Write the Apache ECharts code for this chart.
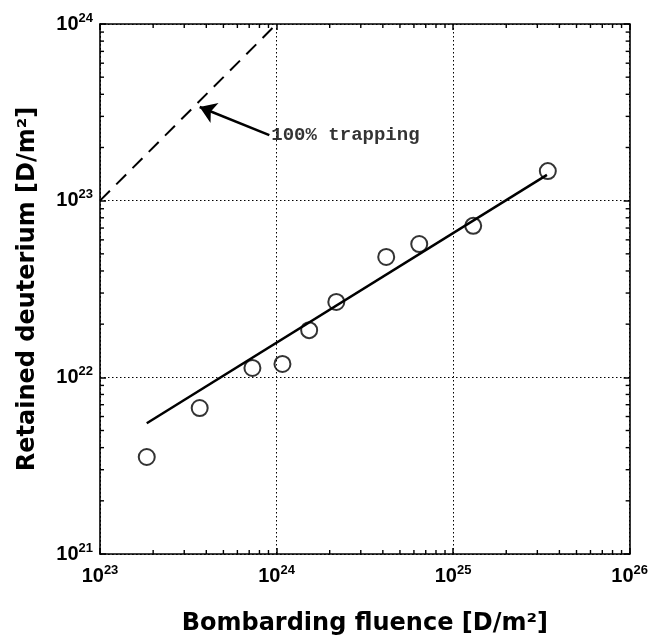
<!DOCTYPE html>
<html><head><meta charset="utf-8">
<script src="https://cdn.jsdelivr.net/npm/echarts@6/dist/echarts.min.js"></script>
<style>html,body{margin:0;padding:0;background:#fff}#c{width:651px;height:641px}</style>
</head><body><div id="c"></div>
<script>
// ---- data ----
const fluence  = [1.84e23, 3.67e23, 7.3e23, 1.08e24, 1.53e24, 2.18e24, 4.18e24, 6.43e24, 1.30e25, 3.44e25];
const retained = [3.54e21, 6.7e21, 1.13e22, 1.19e22, 1.85e22, 2.67e22, 4.8e22, 5.68e22, 7.2e22, 1.47e23];
const fitX = [1.84e23, 3.4e25];
const fitY = [5.5e21, 1.4e23];
const trapX = [1e23, 1e24];
const trapY = [1e23, 1e24];
const arrowTail = [9.1e23, 2.35e23];
const arrowTip  = [3.67e23, 3.39e23];
const annotation = '100% trapping';
const xRange = [1e23, 1e26];
const yRange = [1e21, 1e24];
const xDecades = [1e23, 1e24, 1e25];
const yDecades = [1e21, 1e22, 1e23];
const minorMantissas = [2, 3, 4, 5, 6, 7, 8, 9];
const xName = 'Bombarding fluence [D/m²]';
const yName = 'Retained deuterium [D/m²]';

const SANS = '"Liberation Sans", Arial, sans-serif';
const expLabel = v => '{b|10}{s|' + Math.round(Math.log10(v)) + '}';
const labelRich = {
  b: { fontFamily: SANS, fontSize: 20, fontWeight: 'bold', color: '#000' },
  s: { fontFamily: SANS, fontSize: 13, fontWeight: 'bold', color: '#000', padding: [0, 0, 12, 0] }
};
const frameLine = { show: true, lineStyle: { color: '#000', width: 1.6 } };
const tickIn = { show: true, inside: true, length: 6, lineStyle: { color: '#000', width: 1.5 } };
const dotted = { show: true, lineStyle: { color: '#000', type: [1.5, 2.5], width: 1 } };

const pair = (a, b) => a.map((v, i) => [v, b[i]]);
const minorX = [];
xDecades.forEach(d => minorMantissas.forEach(m => minorX.push([m * d, yRange[0]])));
const minorY = [];
yDecades.forEach(d => minorMantissas.forEach(m => minorY.push([xRange[0], m * d])));
const tickStyle = { stroke: '#000', lineWidth: 1.4 };

const chart = echarts.init(document.getElementById('c'));
chart.setOption({
  animation: false,
  backgroundColor: '#fff',
  grid: { left: 100, top: 24, right: 19, bottom: 87 },
  xAxis: [
    { type: 'log', logBase: 10, min: xRange[0], max: xRange[1], position: 'bottom',
      axisLine: frameLine, axisTick: tickIn, splitLine: dotted, minorTick: { show: false },
      axisLabel: { formatter: expLabel, rich: labelRich, margin: 10 },
      name: xName, nameLocation: 'middle', nameGap: 58,
      nameTextStyle: { fontFamily: '"DejaVu Sans", sans-serif', fontWeight: 'bold', fontSize: 24, color: '#000' } },
    { type: 'log', logBase: 10, min: xRange[0], max: xRange[1], position: 'top',
      axisLine: frameLine, axisTick: tickIn, splitLine: { show: false }, axisLabel: { show: false } }
  ],
  yAxis: [
    { type: 'log', logBase: 10, min: yRange[0], max: yRange[1], position: 'left',
      axisLine: frameLine, axisTick: tickIn, splitLine: dotted,
      axisLabel: { formatter: expLabel, rich: labelRich, margin: 7 },
      name: yName, nameLocation: 'middle', nameGap: 60, nameRotate: 90,
      nameTextStyle: { fontFamily: '"DejaVu Sans", sans-serif', fontWeight: 'bold', fontSize: 24, color: '#000' } },
    { type: 'log', logBase: 10, min: yRange[0], max: yRange[1], position: 'right',
      axisLine: frameLine, axisTick: tickIn, splitLine: { show: false }, axisLabel: { show: false } }
  ],
  series: [
    { type: 'custom', coordinateSystem: 'cartesian2d', silent: true, clip: false, data: minorX,
      renderItem: (p, api) => {
        const v = api.value(0);
        const b = api.coord([v, yRange[0]]), t = api.coord([v, yRange[1]]);
        return { type: 'group', children: [
          { type: 'line', shape: { x1: b[0], y1: b[1], x2: b[0], y2: b[1] - 4 }, style: tickStyle },
          { type: 'line', shape: { x1: t[0], y1: t[1], x2: t[0], y2: t[1] + 4 }, style: tickStyle }
        ] };
      } },
    { type: 'custom', coordinateSystem: 'cartesian2d', silent: true, clip: false, data: minorY,
      renderItem: (p, api) => {
        const v = api.value(1);
        const l = api.coord([xRange[0], v]), r = api.coord([xRange[1], v]);
        return { type: 'group', children: [
          { type: 'line', shape: { x1: l[0], y1: l[1], x2: l[0] + 4, y2: l[1] }, style: tickStyle },
          { type: 'line', shape: { x1: r[0], y1: r[1], x2: r[0] - 4, y2: r[1] }, style: tickStyle }
        ] };
      } },
    { type: 'line', data: pair(trapX, trapY), symbol: 'none', silent: true,
      lineStyle: { color: '#000', width: 2, type: [14, 9] } },
    { type: 'line', data: pair(fitX, fitY), symbol: 'none', silent: true,
      lineStyle: { color: '#000', width: 2.5 } },
    { type: 'scatter', data: pair(fluence, retained), symbol: 'circle', symbolSize: 16,
      itemStyle: { color: 'rgba(0,0,0,0)', borderColor: '#000', borderWidth: 2 } },
    { type: 'lines', coordinateSystem: 'cartesian2d', silent: true,
      symbol: ['none', 'arrow'], symbolSize: 16,
      lineStyle: { color: '#000', width: 2.5, opacity: 1, curveness: 0 },
      data: [{ coords: [arrowTail, arrowTip] }] },
    { type: 'scatter', data: [arrowTail], symbolSize: 0, silent: true,
      label: { show: true, position: 'right', distance: 2, formatter: annotation,
        fontFamily: '"Liberation Mono", monospace', fontSize: 19, fontWeight: 'bold', color: '#000' } }
  ]
});
</script></body></html>
